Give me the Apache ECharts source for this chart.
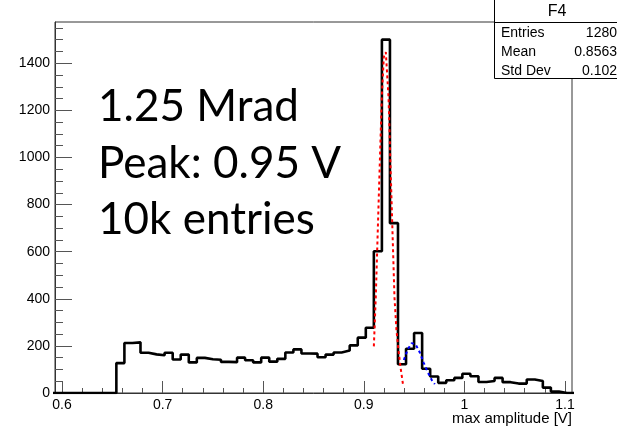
<!DOCTYPE html>
<html>
<head>
<meta charset="utf-8">
<script src="https://cdn.jsdelivr.net/npm/echarts@6/dist/echarts.min.js"></script>
<style>
  html, body { margin: 0; padding: 0; background: #fff; }
  #chart { width: 617px; height: 429px; }
</style>
</head>
<body>
<div id="chart"></div>
<script>
// Histogram binning: lower/upper edges of each 0.008 V bin
const binEdges = [
  0.590, 0.598, 0.606, 0.614, 0.622, 0.630, 0.638, 0.646, 0.654, 0.662,
  0.670, 0.678, 0.686, 0.694, 0.702, 0.710, 0.718, 0.726, 0.734, 0.742,
  0.750, 0.758, 0.766, 0.774, 0.782, 0.790, 0.798, 0.806, 0.814, 0.822,
  0.830, 0.838, 0.846, 0.854, 0.862, 0.870, 0.878, 0.886, 0.894, 0.902,
  0.910, 0.918, 0.926, 0.934, 0.942, 0.950, 0.958, 0.966, 0.974, 0.982,
  0.990, 0.998, 1.006, 1.014, 1.022, 1.030, 1.038, 1.046, 1.054, 1.062,
  1.070, 1.078, 1.086, 1.094, 1.102, 1.110
];

// Entries per bin
const binCounts = [
  0, 0, 0, 0, 0, 0, 0, 0, 127, 212,
  215, 171, 164, 160, 171, 142, 163, 130, 149, 143,
  141, 132, 131, 150, 139, 130, 150, 133, 145, 172,
  185, 168, 167, 152, 163, 172, 180, 202, 235, 277,
  602, 1500, 721, 122, 188, 255, 103, 70, 43, 54,
  64, 82, 71, 47, 51, 64, 46, 40, 40, 57,
  51, 23, 6, 0, 0
];

// Main peak fit (red)
const peakFitX = [0.9100, 0.9119, 0.9139, 0.9159, 0.9179, 0.9199, 0.9219, 0.9246, 0.9265, 0.9285, 0.9305, 0.9325, 0.9345, 0.9365, 0.9391];
const peakFitY = [198, 407, 690, 973, 1256, 1426, 1447, 1256, 973, 690, 407, 266, 181, 110, 33];

// Secondary peak fit (blue)
const sidePeakFitX = [0.9398, 0.9437, 0.9477, 0.9517, 0.9557, 0.9596, 0.9636, 0.9676, 0.9706];
const sidePeakFitY = [140, 185, 212, 205, 172, 128, 88, 55, 38];

// Axis ticks
const xMajorTicks = [0.6, 0.7, 0.8, 0.9, 1.0, 1.1];
const xMinorTicks = [0.60, 0.62, 0.64, 0.66, 0.68, 0.70, 0.72, 0.74, 0.76, 0.78, 0.80, 0.82, 0.84, 0.86, 0.88,
  0.90, 0.92, 0.94, 0.96, 0.98, 1.00, 1.02, 1.04, 1.06, 1.08, 1.10];
const yMajorTicks = [0, 200, 400, 600, 800, 1000, 1200, 1400];
const yMinorTicks = [0, 50, 100, 150, 200, 250, 300, 350, 400, 450, 500, 550, 600, 650, 700, 750,
  800, 850, 900, 950, 1000, 1050, 1100, 1150, 1200, 1250, 1300, 1350, 1400, 1450, 1500, 1550];

// Annotation and statistics box text
const noteLines = ['1.25 Mrad', 'Peak: 0.95 V', '10k entries'];
const statsTitle = 'F4';
const statsNames = ['Entries', 'Mean', 'Std Dev'];
const statsValues = ['1280', '0.8563', '0.102'];
const xAxisTitle = 'max amplitude [V]';

const X_MIN = 0.593, X_MAX = 1.107;
const Y_MIN = 0, Y_MAX = 1575;

// Step outline: each bin's level starts at its lower edge; last point closes the final bin
const histData = binCounts.map((c, i) => [binEdges[i], c]);
histData.push([binEdges[binCounts.length], binCounts[binCounts.length - 1]]);

const pairs = (xs, ys) => xs.map((x, i) => [x, ys[i]]);

const labelFont = { fontFamily: 'Liberation Sans', fontSize: 14, color: '#000', formatter: v => String(v) };

function valueAxis(extra) {
  return Object.assign({
    type: 'value',
    splitLine: { show: false },
    axisLine: { onZero: false, lineStyle: { color: '#333', width: 1 } },
  }, extra);
}

const chart = echarts.init(document.getElementById('chart'), null, { renderer: 'canvas' });

const statsGraphics = [
  { type: 'rect', shape: { x: 494.5, y: -1.5, width: 140, height: 80 },
    style: { fill: '#fff', stroke: '#000', lineWidth: 1 }, z: 10 },
  { type: 'line', shape: { x1: 494.5, y1: 22.5, x2: 617, y2: 22.5 },
    style: { stroke: '#000', lineWidth: 1 }, z: 11 },
  { type: 'text', style: { text: statsTitle, x: 557, y: 12, textAlign: 'center', textVerticalAlign: 'middle',
    font: '16px "Liberation Sans"', fill: '#000' }, z: 11 }
];
statsNames.forEach((name, i) => {
  const y = 33.5 + i * 19;
  statsGraphics.push({ type: 'text', style: { text: name, x: 501, y, textAlign: 'left', textVerticalAlign: 'middle',
    font: '14px "Liberation Sans"', fill: '#000' }, z: 11 });
  statsGraphics.push({ type: 'text', style: { text: statsValues[i], x: 617, y, textAlign: 'right', textVerticalAlign: 'middle',
    font: '14px "Liberation Sans"', fill: '#000' }, z: 11 });
});

const noteGraphics = noteLines.map((t, i) => ({
  type: 'text',
  style: { text: t, x: 98, y: 107 + i * 56.5, textAlign: 'left', textVerticalAlign: 'middle',
    font: '44px Lato', fill: '#000' },
  z: 5
}));

const option = {
  animation: false,
  backgroundColor: '#fff',
  grid: {
    left: 55, right: 45, top: 22, bottom: 36,
    show: true, borderColor: '#333', borderWidth: 1, backgroundColor: 'transparent'
  },
  xAxis: [
    valueAxis({
      min: X_MIN, max: X_MAX, position: 'bottom',
      axisTick: { inside: true, length: 12, customValues: xMajorTicks, lineStyle: { color: '#555' } },
      axisLabel: Object.assign({ customValues: xMajorTicks, margin: 5 }, labelFont)
    }),
    valueAxis({
      min: X_MIN, max: X_MAX, position: 'bottom',
      axisLine: { show: false, onZero: false },
      axisTick: { inside: true, length: 5, customValues: xMinorTicks, lineStyle: { color: '#555' } },
      axisLabel: { show: false }
    })
  ],
  yAxis: [
    valueAxis({
      min: Y_MIN, max: Y_MAX, position: 'left',
      axisTick: { inside: true, length: 17, customValues: yMajorTicks, lineStyle: { color: '#555' } },
      axisLabel: Object.assign({ customValues: yMajorTicks, margin: 5 }, labelFont)
    }),
    valueAxis({
      min: Y_MIN, max: Y_MAX, position: 'left',
      axisLine: { show: false, onZero: false },
      axisTick: { inside: true, length: 8, customValues: yMinorTicks, lineStyle: { color: '#555' } },
      axisLabel: { show: false }
    })
  ],
  series: [
    {
      name: 'F4', type: 'line', step: 'end', data: histData,
      symbol: 'none', lineStyle: { color: '#000', width: 2.6 }, z: 3
    },
    {
      name: 'peak fit', type: 'line', data: pairs(peakFitX, peakFitY),
      symbol: 'none', lineStyle: { color: '#ff0000', width: 2, type: [3, 3] }, z: 4
    },
    {
      name: 'side peak fit', type: 'line', data: pairs(sidePeakFitX, sidePeakFitY),
      symbol: 'none', lineStyle: { color: '#0000ff', width: 2, type: [3, 3] }, z: 4
    }
  ],
  graphic: [
    { type: 'text', style: { text: xAxisTitle, x: 572, y: 419, textAlign: 'right', textVerticalAlign: 'middle',
      font: '15px "Liberation Sans"', fill: '#000' } },
    ...noteGraphics,
    ...statsGraphics
  ]
};

chart.setOption(option);
</script>
</body>
</html>
